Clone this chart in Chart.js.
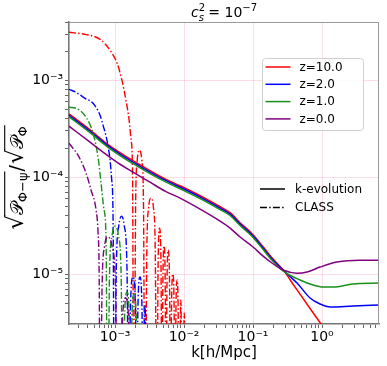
<!DOCTYPE html>
<html>
<head>
<meta charset="utf-8">
<script src="https://cdn.jsdelivr.net/npm/chart.js@4.4.0/dist/chart.umd.min.js"></script>
<style>
html, body { margin: 0; padding: 0; background: #fff; }
canvas { display: block; }
</style>
</head>
<body>
<canvas id="chart" width="387" height="366"></canvas>
<script>
// axis ranges and tick labels
var xRange = [2.15e-4, 6.7];
var yRange = [3.05e-6, 4.0e-3];
var xMajor = [1e-3, 1e-2, 1e-1, 1];
var xMajorLabels = ['10\u207B\u00B3', '10\u207B\u00B2', '10\u207B\u00B9', '10\u2070'];
var yMajor = [1e-5, 1e-4, 1e-3];
var yMajorLabels = ['10\u207B\u2075', '10\u207B\u2074', '10\u207B\u00B3'];

var redshifts = ['z=10.0', 'z=2.0', 'z=1.0', 'z=0.0'];
var colors = ['#ff0000', '#0000ff', '#1a8f1a', '#800080'];

// k-evolution (solid lines)
var kEvoRed = [2.15e-4, 4.34e-4, 7.66e-4, 1.18e-3, 1.82e-3, 3.21e-3, 5.31e-3, 8.75e-3, 1.71e-2, 3.33e-2, 4.65e-2, 6.49e-2, 0.1, 0.14, 0.188, 0.272, 0.4, 1.0, 2.0];
var pEvoRed = [4.5e-4, 3.08e-4, 2.21e-4, 1.79e-4, 1.48e-4, 1.17e-4, 9.6e-5, 8.15e-5, 6.43e-5, 4.95e-5, 4.3e-5, 3.39e-5, 2.55e-5, 1.91e-5, 1.47e-5, 1.11e-5, 7.45e-6, 2.95e-6, 1.47e-6];
var kEvoBlue = [2.15e-4, 4.34e-4, 7.66e-4, 1.18e-3, 1.82e-3, 3.21e-3, 5.31e-3, 8.75e-3, 1.71e-2, 3.33e-2, 4.65e-2, 6.49e-2, 0.1, 0.14, 0.188, 0.272, 0.435, 0.67, 0.936, 1.31, 2.81, 6.93];
var pEvoBlue = [4.36e-4, 2.98e-4, 2.14e-4, 1.73e-4, 1.43e-4, 1.13e-4, 9.31e-5, 7.88e-5, 6.22e-5, 4.79e-5, 4.16e-5, 3.28e-5, 2.47e-5, 1.85e-5, 1.43e-5, 1.10e-5, 8.07e-6, 5.66e-6, 4.91e-6, 4.57e-6, 4.68e-6, 4.79e-6];
var kEvoGreen = [2.15e-4, 4.34e-4, 7.66e-4, 1.18e-3, 1.82e-3, 3.21e-3, 5.31e-3, 8.75e-3, 1.71e-2, 3.33e-2, 4.65e-2, 6.49e-2, 0.1, 0.14, 0.188, 0.272, 0.48, 0.741, 1.03, 1.44, 2.81, 6.93];
var pEvoGreen = [4.21e-4, 2.88e-4, 2.07e-4, 1.67e-4, 1.38e-4, 1.09e-4, 9.0e-5, 7.6e-5, 6.0e-5, 4.63e-5, 4.02e-5, 3.17e-5, 2.39e-5, 1.79e-5, 1.39e-5, 1.08e-5, 8.67e-6, 7.71e-6, 7.35e-6, 7.35e-6, 7.89e-6, 8.07e-6];
var kEvoPurple = [2.15e-4, 4.34e-4, 7.66e-4, 1.18e-3, 1.82e-3, 3.21e-3, 5.31e-3, 8.75e-3, 1.71e-2, 3.33e-2, 4.65e-2, 6.49e-2, 0.1, 0.14, 0.188, 0.272, 0.435, 0.607, 0.936, 1.65, 3.56, 6.93];
var pEvoPurple = [3.36e-4, 2.30e-4, 1.69e-4, 1.36e-4, 1.13e-4, 8.88e-5, 7.17e-5, 6.08e-5, 4.68e-5, 3.52e-5, 2.98e-5, 2.41e-5, 1.90e-5, 1.53e-5, 1.30e-5, 1.10e-5, 1.02e-5, 1.05e-5, 1.18e-5, 1.33e-5, 1.39e-5, 1.39e-5];

// CLASS (dash-dot lines), 1e-7 marks a zero crossing (falls below the axis)
var kClassRed = [2.15e-4, 3.67e-4, 6.06e-4, 8.47e-4, 1.07e-3, 1.26e-3, 1.44e-3, 1.60e-3, 1.71e-3, 1.79e-3, 1.88e-3,
  1.99e-3, 2.10e-3, 2.27e-3, 2.44e-3, 2.58e-3, 2.72e-3,
  2.89e-3, 3.07e-3, 3.32e-3, 3.60e-3, 3.82e-3, 4.06e-3,
  4.20e-3, 4.42e-3, 4.64e-3, 4.80e-3,
  4.93e-3, 5.13e-3, 5.34e-3, 5.48e-3,
  5.65e-3, 5.90e-3, 6.18e-3, 6.37e-3,
  6.57e-3, 6.88e-3, 7.19e-3, 7.41e-3,
  7.61e-3, 7.92e-3, 8.24e-3, 8.47e-3,
  8.99e-3, 9.52e-3,
  1.007e-2, 1.07e-2];
var pClassRed = [3.13e-3, 2.98e-3, 2.65e-3, 2.04e-3, 1.50e-3, 1.0e-3, 6.22e-4, 3.87e-4, 2.41e-4, 1.18e-4, 1e-7,
  5.7e-5, 1.52e-4, 1.90e-4, 1.52e-4, 5.7e-5, 1e-7,
  1.82e-5, 4.86e-5, 6.08e-5, 4.86e-5, 1.82e-5, 1e-7,
  1.19e-5, 2.98e-5, 1.19e-5, 1e-7,
  7.8e-6, 1.95e-5, 7.8e-6, 1e-7,
  7.1e-6, 1.77e-5, 7.1e-6, 1e-7,
  4.0e-6, 1.0e-5, 4.0e-6, 1e-7,
  3.5e-6, 8.67e-6, 3.5e-6, 1e-7,
  5.4e-6, 1e-7,
  3.96e-6, 1e-7];
var kClassBlue = [2.15e-4, 2.72e-4, 3.67e-4, 4.80e-4, 6.06e-4, 6.70e-4, 7.41e-4, 7.92e-4, 8.47e-4, 8.90e-4, 9.35e-4, 9.83e-4,
  1.044e-3, 1.135e-3, 1.242e-3, 1.359e-3, 1.487e-3, 1.60e-3,
  1.666e-3, 1.82e-3, 1.982e-3, 2.05e-3,
  2.14e-3, 2.30e-3, 2.46e-3, 2.55e-3,
  2.72e-3, 2.91e-3];
var pClassBlue = [8.08e-4, 7.52e-4, 6.52e-4, 5.79e-4, 4.36e-4, 3.43e-4, 2.65e-4, 2.09e-4, 1.50e-4, 9.77e-5, 4.06e-5, 1e-7,
  1.19e-5, 3.17e-5, 3.96e-5, 3.17e-5, 1.19e-5, 1e-7,
  4.2e-6, 9.31e-6, 4.2e-6, 1e-7,
  4.2e-6, 9.31e-6, 4.2e-6, 1e-7,
  4.79e-6, 1e-7];
var kClassGreen = [2.15e-4, 2.72e-4, 3.80e-4, 4.80e-4, 5.67e-4, 6.27e-4, 6.93e-4, 7.41e-4, 7.78e-4,
  8.30e-4, 9.05e-4, 1.007e-3, 1.12e-3, 1.226e-3, 1.31e-3,
  1.373e-3, 1.49e-3, 1.611e-3, 1.677e-3,
  1.752e-3, 1.88e-3, 2.036e-3, 2.16e-3];
var pClassGreen = [5.27e-4, 5.14e-4, 4.16e-4, 2.84e-4, 1.61e-4, 8.67e-5, 4.57e-5, 2.24e-5, 1e-7,
  9.4e-6, 2.5e-5, 3.13e-5, 2.5e-5, 9.4e-6, 1e-7,
  3.5e-6, 6.52e-6, 3.5e-6, 1e-7,
  3.4e-6, 6.22e-6, 3.4e-6, 1e-7];
var kClassPurple = [2.15e-4, 3.01e-4, 3.80e-4, 4.49e-4, 5.31e-4, 5.67e-4, 5.90e-4, 6.06e-4,
  6.48e-4, 7.04e-4, 7.92e-4, 9.05e-4, 1.017e-3, 1.105e-3,
  1.22e-3, 1.284e-3, 1.42e-3, 1.57e-3, 1.65e-3];
var pClassPurple = [2.24e-4, 1.61e-4, 1.10e-4, 7.34e-5, 4.57e-5, 2.65e-5, 8.0e-6, 1e-7,
  7.2e-6, 1.93e-5, 2.41e-5, 1.93e-5, 7.2e-6, 1e-7,
  1e-7, 3.5e-6, 5.66e-6, 3.5e-6, 1e-7];

var FONT = "'DejaVu Sans', sans-serif";
var dashDot = [7, 2.2, 1.5, 2.2];

function pts(ks, ps) {
    return ks.map(function (k, i) { return { x: k, y: ps[i] }; });
}

function line(label, ks, ps, color, dashed, order) {
    return {
        label: label,
        data: pts(ks, ps),
        borderColor: color,
        backgroundColor: color,
        borderWidth: dashed ? 1.4 : 1.5,
        borderDash: dashed ? dashDot : [],
        pointRadius: 0,
        fill: false,
        cubicInterpolationMode: 'monotone',
        order: order
    };
}

var datasets = [
    line('z=10.0 CLASS', kClassRed, pClassRed, colors[0], true, 8),
    line('z=10.0', kEvoRed, pEvoRed, colors[0], false, 7),
    line('z=2.0 CLASS', kClassBlue, pClassBlue, colors[1], true, 6),
    line('z=2.0', kEvoBlue, pEvoBlue, colors[1], false, 5),
    line('z=1.0 CLASS', kClassGreen, pClassGreen, colors[2], true, 4),
    line('z=1.0', kEvoGreen, pEvoGreen, colors[2], false, 3),
    line('z=0.0 CLASS', kClassPurple, pClassPurple, colors[3], true, 2),
    line('z=0.0', kEvoPurple, pEvoPurple, colors[3], false, 1)
];

// log ticks 1..9 x 10^n inside the range
function logTicks(range) {
    var out = [];
    for (var e = -7; e <= 1; e++) {
        for (var m = 1; m <= 9; m++) {
            var v = m * Math.pow(10, e);
            if (v >= range[0] && v <= range[1]) out.push({ value: v });
        }
    }
    return out;
}

function majorIndex(list, v) {
    for (var i = 0; i < list.length; i++) {
        if (Math.abs(v / list[i] - 1) < 1e-6) return i;
    }
    return -1;
}

var gridPink = 'rgba(250, 170, 190, 0.4)';

function axis(range, major, labels, isX) {
    return {
        type: 'logarithmic',
        min: range[0],
        max: range[1],
        afterBuildTicks: function (scale) { scale.ticks = logTicks(range); },
        afterFit: function (scale) {
            if (isX) scale.height = 42; else scale.width = 69;
        },
        border: { color: '#777', width: 1.6 },
        grid: {
            color: function (ctx) {
                return ctx.tick && majorIndex(major, ctx.tick.value) >= 0 ? gridPink : 'rgba(0,0,0,0)';
            },
            tickColor: '#666',
            tickLength: 4,
            lineWidth: 1
        },
        ticks: {
            autoSkip: false,
            maxRotation: 0,
            padding: isX ? 1 : 2,
            color: '#000',
            font: { family: FONT, size: 14 },
            callback: function (v) {
                var i = majorIndex(major, v);
                return i >= 0 ? labels[i] : '';
            }
        },
        title: isX ? {
            display: true,
            text: 'k[h/Mpc]',
            color: '#000',
            font: { family: FONT, size: 15 },
            padding: { top: 0, bottom: 4 }
        } : { display: false }
    };
}

function drawRuns(c, runs, x, y) {
    // runs: [{t, size, dy, italic, stay, gap}]
    var total = 0, i, w;
    for (i = 0; i < runs.length; i++) {
        c.font = (runs[i].italic ? 'italic ' : '') + runs[i].size + 'px ' + FONT;
        var m = c.measureText(runs[i].t);
        runs[i].w = m.width;
        runs[i].asc = m.actualBoundingBoxAscent;
        if (!runs[i].stay) total += runs[i].w + (runs[i].gap || 0);
    }
    var cx = x - total / 2;
    for (i = 0; i < runs.length; i++) {
        c.font = (runs[i].italic ? 'italic ' : '') + runs[i].size + 'px ' + FONT;
        c.fillText(runs[i].t, cx, y + (runs[i].dy || 0));
        runs[i].x = cx;
        if (!runs[i].stay) cx += runs[i].w + (runs[i].gap || 0);
    }
    return runs;
}

var extras = {
    id: 'extras',
    afterDraw: function (chart) {
        var c = chart.ctx, a = chart.chartArea;
        c.save();
        // top and right frame
        c.strokeStyle = '#999';
        c.lineWidth = 1;
        c.beginPath();
        c.moveTo(a.left, a.top + 0.5);
        c.lineTo(a.right - 0.5, a.top + 0.5);
        c.lineTo(a.right - 0.5, a.bottom);
        c.stroke();

        c.fillStyle = '#000';
        c.textBaseline = 'alphabetic';
        c.textAlign = 'left';

        // title c_s^2 = 10^-7
        drawRuns(c, [
            { t: 'c', size: 14, italic: true },
            { t: '2', size: 10, dy: -6, stay: true },
            { t: 's', size: 10, dy: 3.5, italic: true },
            { t: ' = 10', size: 14 },
            { t: '\u22127', size: 10, dy: -6 }
        ], (a.left + a.right) / 2, 17);

        // y axis title, rotated
        c.save();
        c.translate(23, (a.top + a.bottom) / 2 + 5);
        c.rotate(-Math.PI / 2);
        var r = drawRuns(c, [
            { t: '\u221A', size: 23 },
            { t: '\uD835\uDCAB', size: 18 },
            { t: '\u03A6\u2212\u03C8', size: 13, dy: 4, gap: 1 },
            { t: '/', size: 19, gap: 1 },
            { t: '\u221A', size: 23 },
            { t: '\uD835\uDCAB', size: 18 },
            { t: '\u03A6', size: 13, dy: 4 }
        ], 0, 0);
        var top = -r[0].asc + 0.7;
        c.strokeStyle = '#000';
        c.lineWidth = 1.1;
        c.beginPath();
        c.moveTo(r[0].x + r[0].w - 1, top);
        c.lineTo(r[2].x + r[2].w + 1, top);
        c.moveTo(r[4].x + r[4].w - 1, top);
        c.lineTo(r[6].x + r[6].w + 1, top);
        c.stroke();
        c.restore();

        // legend for redshifts
        c.font = '12px ' + FONT;
        c.textBaseline = 'middle';
        var bx = a.right - 116.5, by = a.top + 36.5;
        c.fillStyle = 'rgba(255,255,255,0.85)';
        c.strokeStyle = '#d0d0d0';
        c.beginPath();
        c.roundRect(bx, by, 101, 72, 3);
        c.fill();
        c.stroke();
        for (var i = 0; i < redshifts.length; i++) {
            var ly = by + 8.5 + i * 17.3;
            c.strokeStyle = colors[i];
            c.lineWidth = 1.5;
            c.beginPath();
            c.moveTo(bx + 3, ly);
            c.lineTo(bx + 28, ly);
            c.stroke();
            c.fillStyle = '#000';
            c.fillText(redshifts[i], bx + 37, ly + 0.5);
        }

        // legend for codes
        var lx = a.right - 119;
        var codes = ['k-evolution', 'CLASS'];
        for (var j = 0; j < codes.length; j++) {
            var cy = a.top + 167 + j * 18.5;
            c.strokeStyle = '#000';
            c.lineWidth = 1.5;
            c.setLineDash(j === 0 ? [] : dashDot);
            c.beginPath();
            c.moveTo(lx, cy);
            c.lineTo(lx + 25, cy);
            c.stroke();
            c.setLineDash([]);
            c.fillStyle = '#000';
            c.fillText(codes[j], lx + 35, cy + 0.5);
        }
        c.restore();
    }
};

new Chart(document.getElementById('chart').getContext('2d'), {
    type: 'line',
    data: { datasets: datasets },
    options: {
        responsive: false,
        animation: false,
        layout: { padding: { top: 22, right: 8, left: 0, bottom: 0 } },
        plugins: {
            legend: { display: false },
            title: { display: false },
            tooltip: { enabled: false }
        },
        scales: {
            x: axis(xRange, xMajor, xMajorLabels, true),
            y: axis(yRange, yMajor, yMajorLabels, false)
        }
    },
    plugins: [extras]
});
</script>
</body>
</html>
